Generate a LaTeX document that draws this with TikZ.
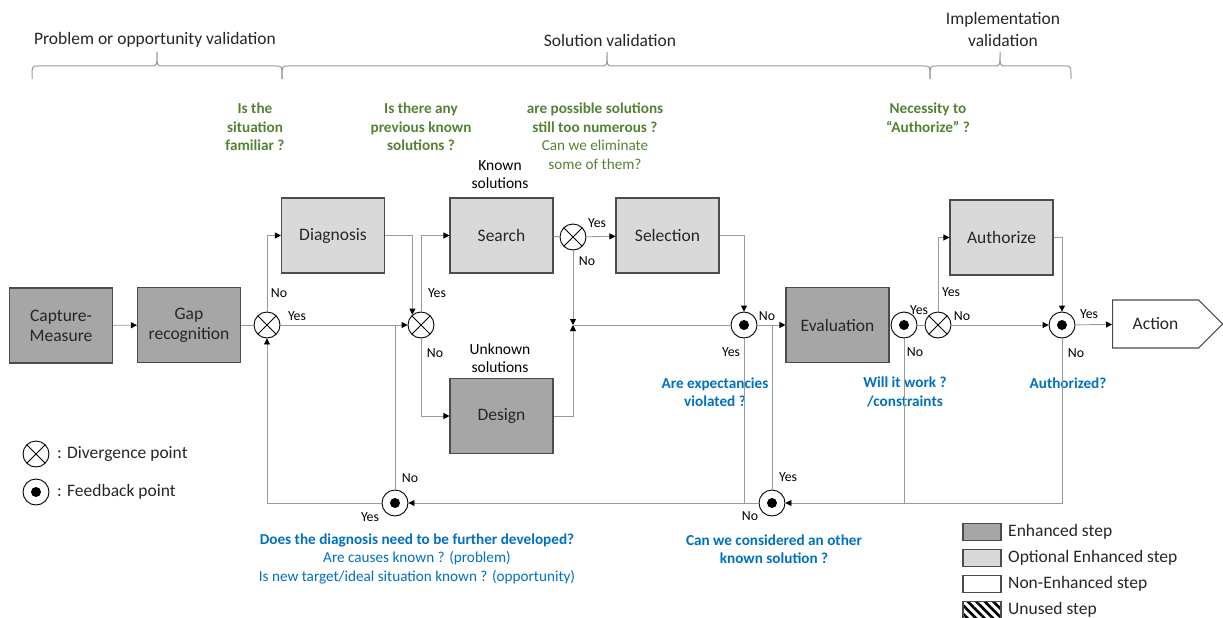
\documentclass[tikz,border=0pt]{standalone}
\usepackage{fontspec}
\setmainfont{Carlito}
\usetikzlibrary{arrows.meta,shapes.symbols,patterns.meta}
\definecolor{enhgray}{HTML}{A6A6A6}
\definecolor{optgray}{HTML}{D9D9D9}
\definecolor{qgreen}{HTML}{548235}
\definecolor{qblue}{HTML}{0070C0}
\definecolor{wire}{HTML}{9A9A9A}
\tikzset{
  stepbox/.style={draw=black!70, line width=1.1pt, minimum width=103pt, minimum height=75pt,
    inner sep=0pt, align=center, text=black!85, font=\fontsize{17.5}{20}\selectfont},
  enhanced/.style={stepbox, fill=enhgray},
  optional/.style={stepbox, fill=optgray},
  divpoint/.style={circle, draw, line width=0.9pt, fill=white, minimum size=26pt, inner sep=0pt,
    path picture={\draw[black, line width=0.9pt] (path picture bounding box.north west) -- (path picture bounding box.south east)
      (path picture bounding box.north east) -- (path picture bounding box.south west);}},
  fbpoint/.style={circle, draw, line width=0.9pt, fill=white, minimum size=26pt, inner sep=0pt,
    path picture={\fill[black] (path picture bounding box.center) circle (5pt);}},
  flow/.style={draw=wire, line width=0.9pt, -{Triangle[length=6pt, width=6pt, color=black]}},
  link/.style={draw=wire, line width=0.9pt},
  yesno/.style={inner sep=0pt, font=\fontsize{13.8}{16}\selectfont},
  ask/.style={inner sep=0pt, align=center, font=\fontsize{15.2}{18.5}\selectfont\bfseries},
  note/.style={inner sep=0pt, align=center, font=\fontsize{15.5}{18}\selectfont},
  phase/.style={inner sep=0pt, align=center, text=black!85, font=\fontsize{17.5}{22}\selectfont},
  bracket/.style={draw=black!40, line width=1pt},
  legend/.style={inner sep=0pt, anchor=west, text=black!85, font=\fontsize{17.5}{20}\selectfont},
  keybox/.style={draw=black!70, line width=1.1pt, minimum width=38pt, minimum height=17pt, inner sep=0pt},
}
\begin{document}
\begin{tikzpicture}[x=1pt,y=-1pt]
\useasboundingbox (0,0) rectangle (1223,618);
\node[phase] (tprob) at (155,40) {Problem or opportunity validation};
\node[phase] (tsol) at (610,40) {Solution validation};
\node[phase] (timpl) at (1003,29) {Implementation\\validation};
\foreach \a/\m/\b in {32/157/282, 282/607/930, 930/1000/1071}
  \draw[bracket] (\a,79) .. controls (\a,66) .. (\a+6,66) -- (\m-6,66) .. controls (\m,66) .. (\m,52)
    .. controls (\m,66) .. (\m+6,66) -- (\b-6,66) .. controls (\b,66) .. (\b,79);

\node[ask, text=qgreen] (qfam) at (255,127) {Is the\\situation\\familiar ?};
\node[ask, text=qgreen] (qprev) at (421,127) {Is there any\\previous known\\solutions ?};
\node[ask, text=qgreen] (qnum) at (595,136) {are possible solutions\\still too numerous ?\\{\mdseries Can we eliminate}\\{\mdseries some of them?}};
\node[ask, text=qgreen] (qauth) at (928,117.5) {Necessity to\\“Authorize” ?};
\node[note] (known) at (500,175) {Known\\solutions};
\node[note] (unknown) at (500,358) {Unknown\\solutions};
\node[ask, text=qblue] (qdev) at (417,558.5) {Does the diagnosis need to be further developed?\\{\mdseries Are causes known ? (problem)}\\{\mdseries Is new target/ideal situation known ? (opportunity)}};
\node[ask, text=qblue] (qexp) at (715,392) {Are expectancies\\violated ?};
\node[ask, text=qblue] (qwork) at (905,392) {Will it work ?\\/constraints};
\node[ask, text=qblue] (qok) at (1068,383) {Authorized?};
\node[ask, text=qblue] (qother) at (774,549) {Can we considered an other\\known solution ?};

\node[enhanced] (capture) at (61,325.5) {Capture-\\Measure};
\node[enhanced] (gap) at (189,325) {Gap\\recognition};
\node[optional] (diagnosis) at (333,235.5) {Diagnosis};
\node[optional] (search) at (501.5,235.5) {Search};
\node[enhanced] (design) at (501.5,416) {Design};
\node[optional] (selection) at (667.5,235.5) {Selection};
\node[enhanced] (evaluation) at (837.5,325) {Evaluation};
\node[optional] (authorize) at (1001.5,237.5) {Authorize};
\node[signal, signal to=east, signal pointer angle=90, draw=black!70, line width=1.1pt, fill=white,
  minimum width=110pt, minimum height=48pt, inner sep=0pt, text=black!85, anchor=west,
  font=\fontsize{17.5}{20}\selectfont] (action) at (1112,324) {Action};

\node[divpoint] (div1) at (267,325) {};
\node[divpoint] (div2) at (421,325) {};
\node[divpoint] (div3) at (573,237) {};
\node[divpoint] (div4) at (938,325) {};
\node[fbpoint] (fb1) at (395,503) {};
\node[fbpoint] (fb2) at (744,325) {};
\node[fbpoint] (fb3) at (772,503) {};
\node[fbpoint] (fb4) at (904,325) {};
\node[fbpoint] (fb5) at (1062,325) {};
\coordinate (merge) at (573,325);

\draw[flow] (capture) -- (gap);
\draw[link] (gap) -- (div1);
\draw[flow] (div1) |- (diagnosis);
\draw[flow] (div1) -- (div2);
\draw[flow] (diagnosis) -| (div2.130);
\draw[flow] (div2) |- (search);
\draw[flow] (div2) |- (design);
\draw[link] (search) -- (div3);
\draw[flow] (div3) -- (selection);
\draw[flow] (div3) -- (merge);
\draw[flow] (design) -| (merge);
\draw[link] (merge) -- (fb2);
\draw[flow] (selection) -| (fb2);
\draw[flow] (fb2) -- (evaluation);
\draw[link] (fb2) -- (fb2 |- fb1);
\draw[flow] (fb3) -- (fb1);
\draw[flow] (fb1) -| (div1);
\draw[link] (fb1) -- (fb1 |- div2);
\draw[link] (fb3) -- (fb3 |- evaluation);
\draw[link] (evaluation) -- (fb4);
\draw[link] (fb4) -- (div4);
\draw[link] (fb4) -- (fb4 |- fb3);
\draw[flow] (div4) |- (authorize);
\draw[flow] (div4) -- (fb5);
\draw[flow] (authorize) -| (fb5);
\draw[flow] (fb5) -- (action);
\draw[flow] (fb5) |- (fb3);

\node[yesno] (ldiv1n) at (279,293) {No};
\node[yesno] (ldiv1y) at (297,316) {Yes};
\node[yesno] (ldiv2y) at (437,293) {Yes};
\node[yesno] (ldiv2n) at (435,353) {No};
\node[yesno] (ldiv3y) at (597,223) {Yes};
\node[yesno] (ldiv3n) at (587,261) {No};
\node[yesno] (lfb2n) at (767,316) {No};
\node[yesno] (lfb2y) at (731,352) {Yes};
\node[yesno] (lfb1n) at (410,478) {No};
\node[yesno] (lfb1y) at (370,517) {Yes};
\node[yesno] (lfb3y) at (788,477) {Yes};
\node[yesno] (lfb3n) at (750,516) {No};
\node[yesno] (lfb4y) at (919,310) {Yes};
\node[yesno] (lfb4n) at (915,352) {No};
\node[yesno] (ldiv4y) at (951,292) {Yes};
\node[yesno] (ldiv4n) at (962,316) {No};
\node[yesno] (lfb5y) at (1089,314) {Yes};
\node[yesno] (lfb5n) at (1076,353) {No};

\node[divpoint] (keydiv) at (36,454) {};
\node[legend] (keydivtext) at (57,454) {: Divergence point};
\node[fbpoint] (keyfb) at (36,492) {};
\node[legend] (keyfbtext) at (57,492) {: Feedback point};
\node[keybox, fill=enhgray] (keyenh) at (982,532) {};
\node[legend] (keyenhtext) at (1008,532) {Enhanced step};
\node[keybox, fill=optgray] (keyopt) at (982,558) {};
\node[legend] (keyopttext) at (1008,558) {Optional Enhanced step};
\node[keybox, fill=white] (keynon) at (982,584) {};
\node[legend] (keynontext) at (1008,584) {Non-Enhanced step};
\node[keybox, pattern={Lines[angle=-45,distance=6pt,line width=2.6pt]}] (keyunused) at (982,610) {};
\node[legend] (keyunusedtext) at (1008,610) {Unused step};
\end{tikzpicture}
\end{document}
